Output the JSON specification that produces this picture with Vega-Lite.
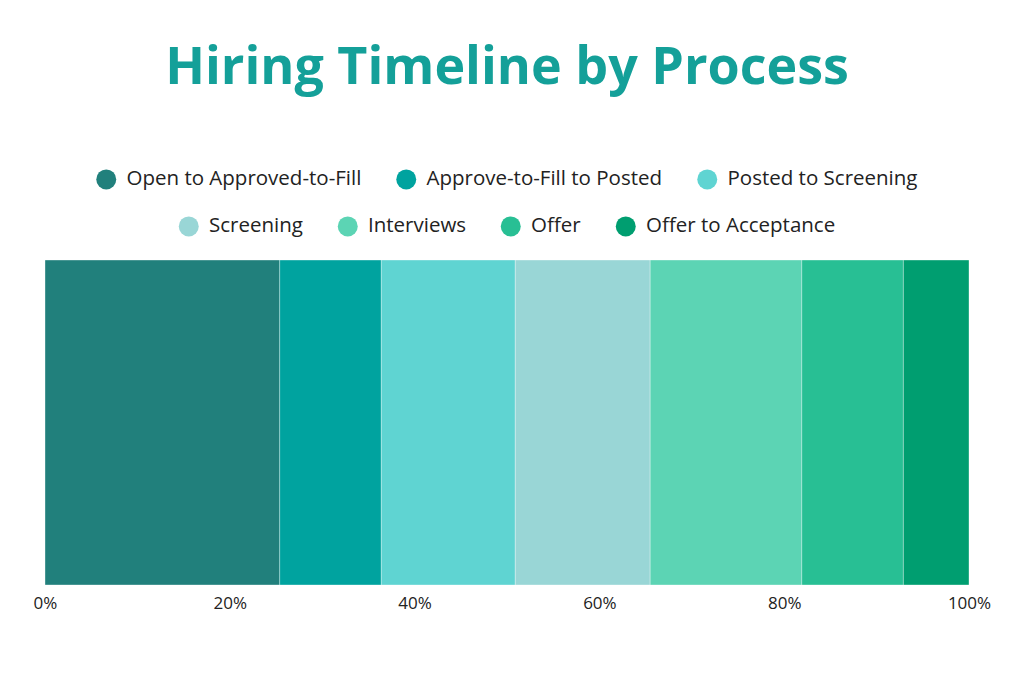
{
  "$schema": "https://vega.github.io/schema/vega-lite/v6.json",
  "width": 924,
  "height": 325,
  "autosize": {"type": "none"},
  "padding": {"left": 45, "top": 260, "right": 55, "bottom": 100},
  "title": {
    "text": "Hiring Timeline by Process",
    "font": "Open Sans",
    "fontSize": 52,
    "fontWeight": "bold",
    "color": "#14a099",
    "anchor": "middle",
    "offset": 74
  },
  "data": {
    "values": [
      {"process": "Open to Approved-to-Fill", "phase": "Open to Approved-to-Fill", "share": 25.4, "step": 1},
      {"process": "Approve-to-Fill to Posted", "phase": "Approve-to-Fill to Posted", "share": 11.0, "step": 2},
      {"process": "Posted to Screening", "phase": "Posted to Screening", "share": 14.5, "step": 3},
      {"process": "Screening", "phase": "Screening", "share": 14.6, "step": 4},
      {"process": "Interviews", "phase": "Interviews", "share": 16.4, "step": 5},
      {"process": "Offer", "phase": "Offer", "share": 11.0, "step": 6},
      {"process": "Offer to Acceptance", "phase": "Offer to Acceptance", "share": 7.1, "step": 7}
    ]
  },
  "encoding": {
    "x": {
      "field": "share",
      "type": "quantitative",
      "stack": "normalize",
      "title": null,
      "axis": {
        "format": "%",
        "values": [0, 0.2, 0.4, 0.6, 0.8, 1],
        "domain": false,
        "ticks": false,
        "grid": false,
        "labelFlush": false,
        "labelFont": "Open Sans",
        "labelFontSize": 17,
        "labelColor": "#222222",
        "labelPadding": 10
      }
    },
    "order": {"field": "step", "type": "quantitative"}
  },
  "layer": [
    {
      "mark": {"type": "bar", "height": {"band": 1}, "stroke": "#ffffff", "strokeWidth": 0.6, "strokeOpacity": 0.6},
      "encoding": {
        "color": {
          "field": "process",
          "type": "nominal",
          "sort": {"field": "step"},
          "scale": {
            "domain": ["Open to Approved-to-Fill", "Approve-to-Fill to Posted", "Posted to Screening", "Screening", "Interviews", "Offer", "Offer to Acceptance"],
            "range": ["#21807c", "#00a39f", "#5fd4d2", "#99d6d6", "#5cd4b4", "#28bf94", "#009e70"]
          },
          "legend": {
            "values": ["Open to Approved-to-Fill", "Approve-to-Fill to Posted", "Posted to Screening"],
            "orient": "top",
            "direction": "horizontal",
            "title": null
          }
        }
      }
    },
    {
      "mark": {"type": "bar", "height": {"band": 1}, "stroke": "#ffffff", "strokeWidth": 0.6, "strokeOpacity": 0.6},
      "encoding": {
        "fill": {
          "field": "phase",
          "type": "nominal",
          "sort": {"field": "step"},
          "scale": {
            "domain": ["Open to Approved-to-Fill", "Approve-to-Fill to Posted", "Posted to Screening", "Screening", "Interviews", "Offer", "Offer to Acceptance"],
            "range": ["#21807c", "#00a39f", "#5fd4d2", "#99d6d6", "#5cd4b4", "#28bf94", "#009e70"]
          },
          "legend": {
            "values": ["Screening", "Interviews", "Offer", "Offer to Acceptance"],
            "orient": "top",
            "direction": "horizontal",
            "title": null
          }
        }
      }
    }
  ],
  "resolve": {"legend": {"color": "independent", "fill": "independent"}},
  "config": {
    "view": {"stroke": null},
    "legend": {
      "symbolType": "circle",
      "symbolSize": 400,
      "symbolStrokeWidth": 0,
      "labelFont": "Open Sans",
      "labelFontSize": 20.5,
      "labelColor": "#222222",
      "labelLimit": 400,
      "columnPadding": 34,
      "symbolOffset": 0,
      "labelOffset": 10,
      "offset": 23,
      "layout": {
        "top": {"anchor": "middle", "direction": "vertical", "center": true, "margin": 26}
      }
    }
  }
}
